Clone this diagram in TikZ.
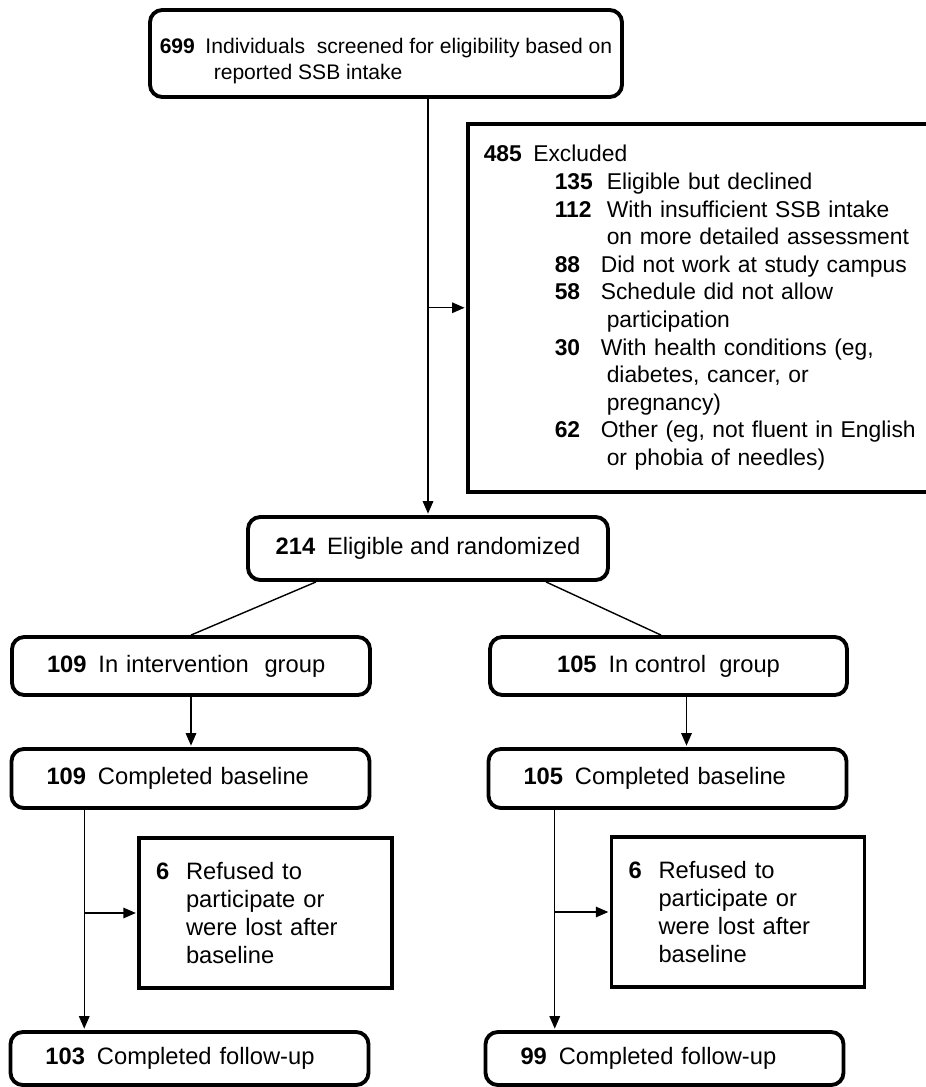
\documentclass[tikz,border=0pt]{standalone}
\usepackage{fontspec}
\setmainfont{Liberation Sans}
\usepackage{tikz}
\usetikzlibrary{arrows.meta,calc}
\tikzset{
  rbox/.style ={rounded corners=7pt,draw=black,line width=2.2pt,fill=white,
                align=center,font=\fontsize{13.5}{16}\selectfont},
  lbox/.style ={rbox,align=left,inner xsep=0.7cm,text width=5.76cm},
  sbox/.style ={draw=black,line width=2pt,fill=white,align=left,
                font=\fontsize{13.5}{15.8}\selectfont},
  flow/.style ={-{Triangle[length=2.5mm,width=2.1mm]},line width=0.8pt,draw=black,
                shorten >=0.8pt},
  link/.style ={line width=0.8pt,draw=black}
}
\newcommand{\exrow}[3][0.92cm]{\hspace*{1.42cm}\makebox[#1][l]{\textbf{#2}}#3}
\newcommand{\excont}[1]{\hspace*{2.46cm}#1}
\newcommand{\refrow}[1]{\hspace*{0.6cm}#1}

\begin{document}
\begin{tikzpicture}
    \useasboundingbox (0,0) rectangle (18.5,-21.74);
    % --- screening and exclusions ---
    \node[rbox,align=left,minimum width=9.44cm,minimum height=1.74cm,
          font=\fontsize{12}{14.6}\selectfont] (screen) at (7.72,-1.07)
      {\rule{0pt}{17pt}\textbf{699}\enspace Individuals\ \ screened for eligibility based on\\
       \hspace*{1.08cm}reported SSB intake};
    \node[sbox,anchor=north west,text width=10cm,inner xsep=0.32cm,
          minimum height=7.36cm,font=\fontsize{13}{15.7}\selectfont] (excl) at (9.32,-2.44)
      {\textbf{485}\enspace Excluded\\
       \exrow[1.04cm]{135}{Eligible but declined}\\
       \exrow[1.04cm]{112}{With insufficient SSB intake}\\
       \excont{on more detailed assessment}\\
       \exrow{88}{Did not work at study campus}\\
       \exrow{58}{Schedule did not allow}\\
       \excont{participation}\\
       \exrow{30}{With health conditions (eg,}\\
       \excont{diabetes, cancer, or}\\
       \excont{pregnancy)}\\
       \exrow{62}{Other (eg, not fluent in English}\\
       \excont{or phobia of needles)}};
    \node[rbox,minimum width=7.2cm,minimum height=1.26cm] (rand) at (8.56,-10.97)
      {\textbf{214}\enspace Eligible and randomized};
    % --- two arms ---
    \node[lbox,minimum height=1.16cm] (interv) at (3.82,-13.32)
      {\textbf{109}\enspace In intervention\ \ group};
    \node[rbox,minimum width=7.14cm,minimum height=1.16cm] (ctrl) at (13.37,-13.32)
      {\textbf{105}\enspace In control\ \ group};
    \node[lbox,minimum height=1.18cm] (baseI) at (3.81,-15.57)
      {\textbf{109}\enspace Completed baseline};
    \node[lbox,minimum height=1.18cm] (baseC) at (13.35,-15.57)
      {\textbf{105}\enspace Completed baseline};
    \node[sbox,text width=4.38cm,inner xsep=0.34cm,minimum height=3cm] (refI) at (5.31,-18.26)
      {\makebox[0.6cm][l]{\textbf{6}}Refused to\\\refrow{participate or}\\
       \refrow{were lost after}\\\refrow{baseline}};
    \node[sbox,text width=4.38cm,inner xsep=0.34cm,minimum height=3cm] (refC) at (14.76,-18.24)
      {\makebox[0.6cm][l]{\textbf{6}}Refused to\\\refrow{participate or}\\
       \refrow{were lost after}\\\refrow{baseline}};
    \node[lbox,minimum height=1.06cm] (fuI) at (3.79,-21.17)
      {\textbf{103}\enspace Completed follow-up};
    \node[lbox,minimum height=1.06cm] (fuC) at (13.29,-21.17)
      {\textbf{99}\enspace Completed follow-up};
    % --- flow ---
    \draw[flow] (screen.south -| rand.north) -- (rand.north);
    \draw[flow] (excl.west -| rand.north) -- (excl.west);
    \draw[link] ([xshift=-2.24cm]rand.south) -- (interv.north);
    \draw[link] ([xshift=2.36cm]rand.south) -- ([xshift=-0.15cm]ctrl.north);
    \draw[flow] (interv.south) -- (interv.south |- baseI.north);
    \coordinate (dropC) at ([xshift=0.36cm]ctrl.south);
    \draw[flow] (dropC) -- (dropC |- baseC.north);
    % losses after baseline branch off the down lines
    \coordinate (tapI) at ([xshift=-1.06cm]refI.west);
    \coordinate (tapC) at ([xshift=-1.1cm]refC.west);
    \draw[flow] (tapI |- baseI.south) -- (tapI |- fuI.north);
    \draw[flow] (tapI) -- (refI.west);
    \draw[flow] (tapC |- baseC.south) -- (tapC |- fuC.north);
    \draw[flow] (tapC) -- (refC.west);
\end{tikzpicture}
\end{document}
